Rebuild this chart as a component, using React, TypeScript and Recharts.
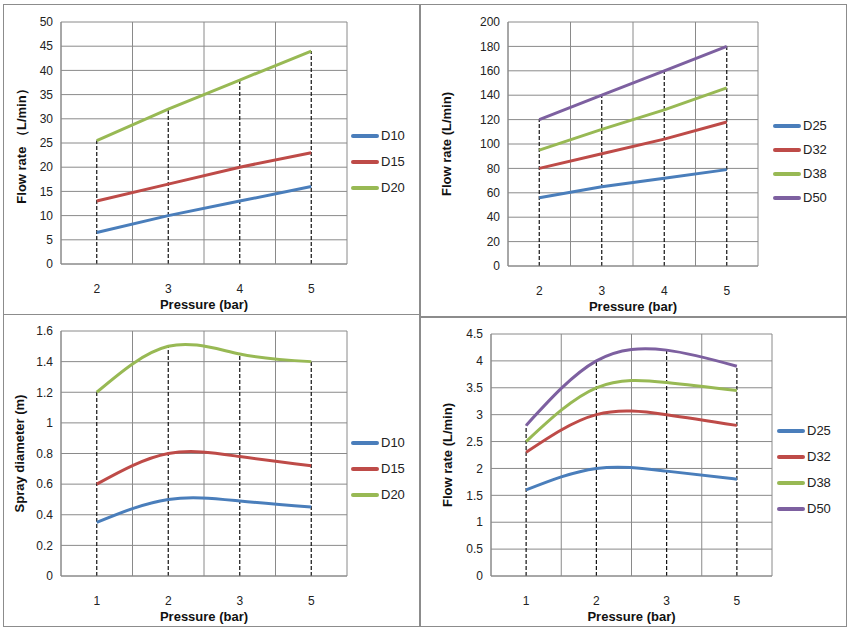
import React from "react";
import { LineChart, Line, XAxis, YAxis, CartesianGrid, ReferenceLine } from "recharts";

const pressureA = ["2", "3", "4", "5"];
const pressureB = ["1", "2", "3", "5"];

const tlD10 = [6.5, 10, 13, 16];
const tlD15 = [13, 16.5, 20, 23];
const tlD20 = [25.5, 32, 38, 44];

const trD25 = [56, 65, 72, 79];
const trD32 = [80, 92, 104, 118];
const trD38 = [95, 112, 128, 146];
const trD50 = [120, 140, 160, 180];

const blD10 = [0.35, 0.5, 0.49, 0.45];
const blD15 = [0.6, 0.8, 0.78, 0.72];
const blD20 = [1.2, 1.5, 1.45, 1.4];

const brD25 = [1.6, 2.0, 1.95, 1.8];
const brD32 = [2.3, 3.0, 3.0, 2.8];
const brD38 = [2.5, 3.5, 3.6, 3.45];
const brD50 = [2.8, 4.0, 4.2, 3.9];

const BLUE = "#4a7ebb";
const RED = "#be4b48";
const GREEN = "#98b954";
const PURPLE = "#7d60a0";

const font = "'Liberation Sans', Arial, sans-serif";

interface Series { name: string; values: number[]; color: string; }

interface PanelProps {
  left: number; top: number; width: number; height: number;
  cats: string[]; series: Series[]; yMax: number; yStep: number;
  yLabel: string; labelOffset: number; smooth?: boolean;
  margin: { top: number; right: number; bottom: number; left: number };
  legendX: number; legendY: number; legendGap: number;
}

function Panel(p: PanelProps) {
  const data = p.cats.map((c, i) => {
    const row: Record<string, number | string> = { x: i, label: c };
    p.series.forEach((s) => (row[s.name] = s.values[i]));
    return row;
  });
  const ticks: number[] = [];
  for (let v = 0; v <= p.yMax + 1e-9; v += p.yStep) ticks.push(Math.round(v * 100) / 100);
  const bounds = p.cats.map((_, i) => i - 0.5).concat([p.cats.length - 0.5]);
  const tops = p.cats.map((_, i) => Math.max(...p.series.map((s) => s.values[i])));
  return (
    <div style={{ position: "absolute", left: p.left, top: p.top, width: p.width, height: p.height, border: "1px solid #8c8c8c", background: "#fff" }}>
      <LineChart width={p.width} height={p.height} data={data} margin={p.margin}>
        <CartesianGrid stroke="#8a8a8a" vertical={false} />
        <XAxis
          dataKey="x" type="number" domain={[-0.5, p.cats.length - 0.5]} ticks={p.cats.map((_, i) => i)}
          tickFormatter={(v: number) => p.cats[v]} tickLine={false} stroke="#8a8a8a" height={50}
          tick={{ fill: "#222", fontSize: 12, fontFamily: font }} tickMargin={14}
          label={{ value: "Pressure (bar)", position: "insideBottom", offset: 5, fill: "#111", fontSize: 13, fontWeight: "bold", fontFamily: font }}
        />
        <YAxis
          domain={[0, p.yMax]} ticks={ticks} interval={0} width={32} tickLine={false} stroke="#8a8a8a"
          tick={{ fill: "#222", fontSize: 12, fontFamily: font }}
          label={{ value: p.yLabel, angle: -90, position: "insideLeft", offset: p.labelOffset, style: { textAnchor: "middle" }, fill: "#111", fontSize: 13, fontWeight: "bold", fontFamily: font }}
        />
        {bounds.map((b) => (
          <ReferenceLine key={"b" + b} x={b} stroke="#8a8a8a" />
        ))}
        {tops.map((t, i) => (
          <ReferenceLine key={"d" + i} segment={[{ x: i, y: 0 }, { x: i, y: t }]} stroke="#111" strokeDasharray="4 2" strokeWidth={1.2} />
        ))}
        {p.series.map((s) => (
          <Line key={s.name} dataKey={s.name} stroke={s.color} strokeWidth={3} dot={false}
            type={p.smooth ? "natural" : "linear"} isAnimationActive={false} />
        ))}
      </LineChart>
      {p.series.map((s, i) => (
        <div key={s.name} style={{ position: "absolute", left: p.legendX, top: p.legendY + i * p.legendGap, display: "flex", alignItems: "center", fontFamily: font, fontSize: 13, color: "#222" }}>
          <div style={{ width: 28, height: 4, background: s.color, borderRadius: 2, marginRight: 2 }} />
          {s.name}
        </div>
      ))}
    </div>
  );
}

export default function App() {
  return (
    <div style={{ position: "absolute", left: 0, top: 0, width: 850, height: 629, background: "#fff" }}>
      <Panel left={3} top={4} width={415} height={309} cats={pressureA} yMax={50} yStep={5}
        yLabel="Flow rate （L/min）" labelOffset={-8} margin={{ top: 17, right: 72, bottom: 0, left: 25 }}
        series={[{ name: "D10", values: tlD10, color: BLUE }, { name: "D15", values: tlD15, color: RED }, { name: "D20", values: tlD20, color: GREEN }]}
        legendX={347} legendY={123} legendGap={26} />
      <Panel left={420} top={4} width={425} height={311} cats={pressureA} yMax={200} yStep={20}
        yLabel="Flow rate (L/min)" labelOffset={-30} margin={{ top: 17, right: 88, bottom: 0, left: 55 }}
        series={[{ name: "D25", values: trD25, color: BLUE }, { name: "D32", values: trD32, color: RED }, { name: "D38", values: trD38, color: GREEN }, { name: "D50", values: trD50, color: PURPLE }]}
        legendX={352} legendY={113} legendGap={24} />
      <Panel left={3} top={314} width={415} height={311} cats={pressureB} yMax={1.6} yStep={0.2} smooth
        yLabel="Spray diameter (m)" labelOffset={-10} margin={{ top: 16, right: 72, bottom: 0, left: 25 }}
        series={[{ name: "D10", values: blD10, color: BLUE }, { name: "D15", values: blD15, color: RED }, { name: "D20", values: blD20, color: GREEN }]}
        legendX={347} legendY={120} legendGap={26} />
      <Panel left={420} top={317} width={425} height={308} cats={pressureB} yMax={4.5} yStep={0.5} smooth
        yLabel="Flow rate (L/min)" labelOffset={-12} margin={{ top: 16, right: 74, bottom: 0, left: 38 }}
        series={[{ name: "D25", values: brD25, color: BLUE }, { name: "D32", values: brD32, color: RED }, { name: "D38", values: brD38, color: GREEN }, { name: "D50", values: brD50, color: PURPLE }]}
        legendX={356} legendY={105} legendGap={26} />
    </div>
  );
}
